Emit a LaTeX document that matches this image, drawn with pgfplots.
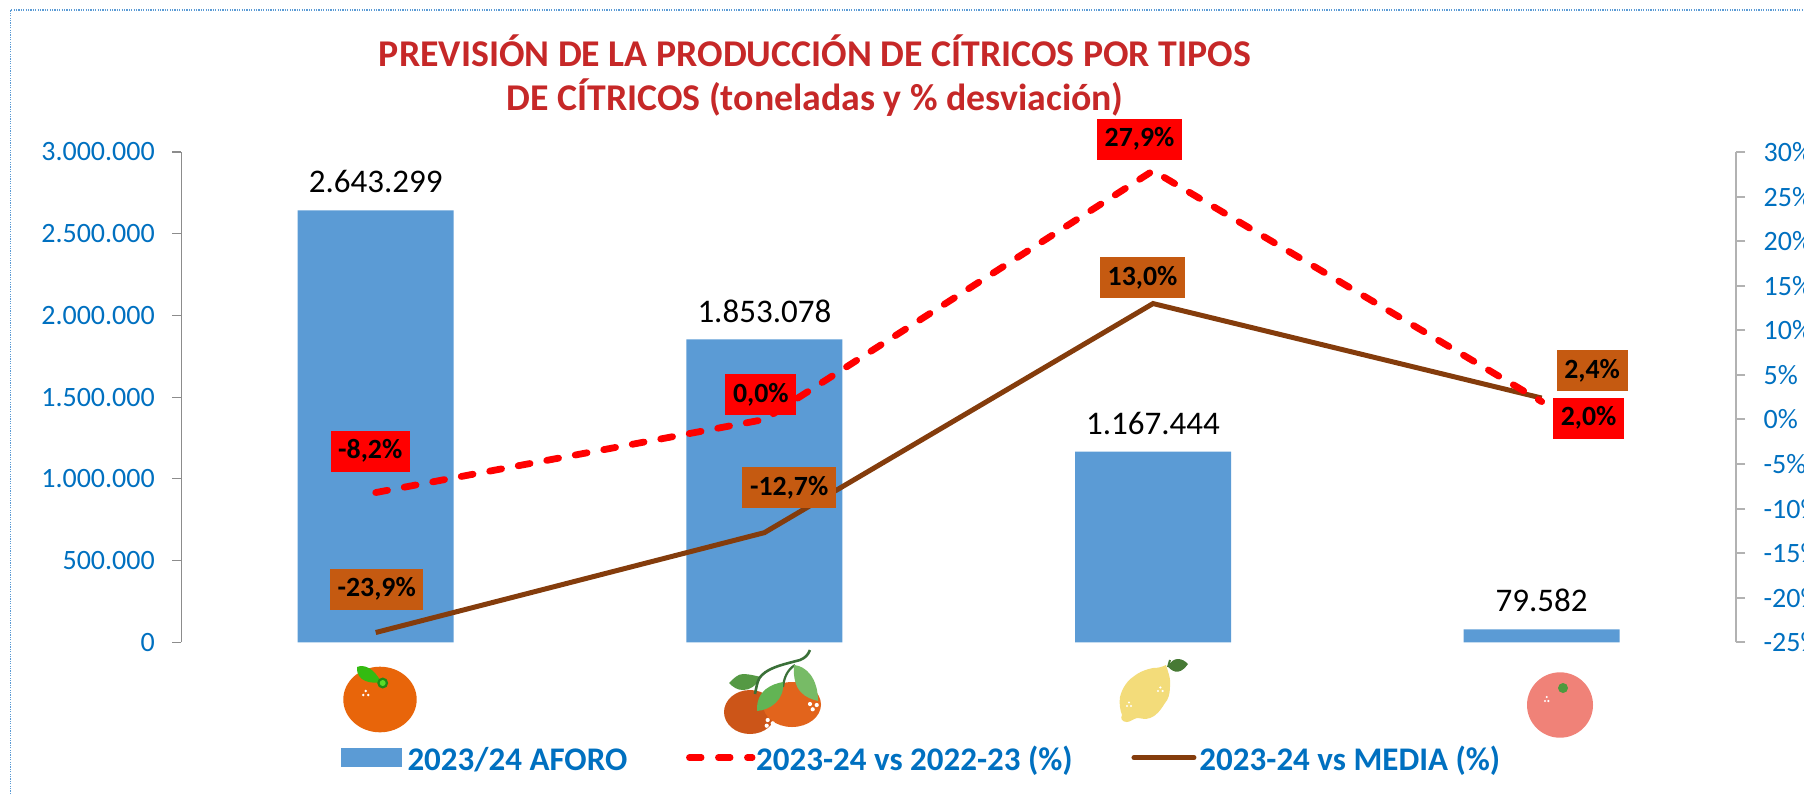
\documentclass[border=0pt]{standalone}
\usepackage{fontspec}
\setmainfont{Carlito}
\usepackage{pgfplots}
\pgfplotsset{compat=1.18}
\usepackage{pgfplotstable}
\definecolor{tickblue}{HTML}{0070C0}
\definecolor{barblue}{HTML}{5B9BD5}
\definecolor{titlered}{HTML}{C62828}
\definecolor{linebrown}{HTML}{843C0C}
\definecolor{boxbrown}{HTML}{C55A11}
\definecolor{fo}{RGB}{232,101,10}
\definecolor{fleaf}{RGB}{51,187,17}
\definecolor{fstar}{RGB}{30,140,20}
\definecolor{fstari}{RGB}{90,220,40}
\definecolor{md}{RGB}{204,85,24}
\definecolor{ml}{RGB}{226,100,28}
\definecolor{stem}{RGB}{58,112,56}
\definecolor{la}{RGB}{85,153,68}
\definecolor{lb}{RGB}{98,180,84}
\definecolor{lc}{RGB}{119,187,102}
\definecolor{lemon}{RGB}{243,220,122}
\definecolor{lemleaf}{RGB}{71,122,53}
\definecolor{pink}{RGB}{240,130,120}
\definecolor{pstar}{RGB}{78,154,62}
\pgfplotstableread{
x y lab
0 2643299 2.643.299
1 1853078 1.853.078
2 1167444 1.167.444
3 79582 79.582
}\barsdata
\pgfplotstableread{
x y lab dx dy
0 -8.2 -8,2 -5.5 41.5
1 0.0 0,0 -3.5 25
2 27.9 27,9 -13.5 31.7
3 2.0 2,0 47 -16.4
}\reddata
\pgfplotstableread{
x y lab dx dy
0 -23.9 -23,9 1 43.5
1 -12.7 -12,7 24.8 44.7
2 13.0 13,0 -10.5 26
3 2.4 2,4 50.5 27.7
}\browndata
\tikzset{
 reddash/.style={color=red,line width=3.4pt,line cap=round,dash pattern=on 6pt off 8.5pt},
 brownline/.style={color=linebrown,line width=2.5pt},
}
\pgfplotsset{
 boxlabels/.style={
  nodes near coords={\pgfplotspointmeta\%},
  point meta=explicit symbolic,
  visualization depends on={\thisrow{dx} \as \dx},
  visualization depends on={\thisrow{dy} \as \dy},
  nodes near coords style={anchor=center,fill=#1,text=black,
    font=\fontsize{13.9}{15}\bfseries,inner xsep=3.8pt,inner ysep=0pt,minimum height=20.5pt,
    xshift={\dx*0.5},yshift={\dy*0.5}},
 },
}
\begin{document}
\begin{tikzpicture}
\path[use as bounding box] (0,0) rectangle (902pt,-397pt);
\clip (0,0) rectangle (902pt,-397pt);
% frame
\draw[barblue,line width=0.6pt,dash pattern=on 0.6pt off 0.6pt] (5.2pt,-397pt) -- (5.2pt,-5pt) -- (902pt,-5pt);
% title
\node[font=\fontsize{18.9}{20}\bfseries,text=titlered] at (407.5pt,-25.3pt) {PREVISIÓN DE LA PRODUCCIÓN DE CÍTRICOS POR TIPOS};
\node[font=\fontsize{18.9}{20}\bfseries,text=titlered] at (407.5pt,-48.9pt) {DE CÍTRICOS (toneladas y \% desviación)};
\begin{axis}[
  at={(90.7pt,-321.15pt)},anchor=south west,
  width=777.3pt,height=245.15pt,scale only axis,clip=false,
  xmin=-0.5,xmax=3.5,ymin=0,ymax=3000000,
  axis x line=none,axis y line*=left,
  axis line style={-,draw=gray!90,line width=0.6pt},
  xtick=\empty,
  scaled y ticks=false,
  ytick={0,500000,1000000,1500000,2000000,2500000,3000000},
  yticklabels={0,500.000,1.000.000,1.500.000,2.000.000,2.500.000,3.000.000},
  tick align=outside,major tick length=4.6pt,
  y tick style={draw=gray!90,line width=0.6pt},
  yticklabel style={font=\fontsize{14}{16}\selectfont,text=tickblue,inner sep=0pt,xshift=-8.5pt},
  legend style={draw=none,fill=none,at={(0.1026,-0.24)},anchor=west,inner sep=0pt,outer sep=0pt,
    font=\fontsize{16.5}{18}\bfseries,text=tickblue,
    nodes={inner sep=0pt},
    /tikz/every even column/.append style={column sep=29.4pt},
    /tikz/every odd column/.append style={column sep=2.8pt}},
  legend columns=3,
]
\addplot[ybar,bar width=78pt,fill=barblue,draw=none,
  nodes near coords,point meta=explicit symbolic,
  nodes near coords style={font=\fontsize{16.5}{18}\selectfont,text=black,anchor=south,yshift=5pt},
  legend image code/.code={\fill[barblue] (0pt,-3.5pt) rectangle (30.5pt,6pt);}]
  table[x=x,y=y,meta=lab]{\barsdata};
\addlegendentry{2023/24 AFORO}
\addlegendimage{legend image code/.code={\draw[color=red,line width=3.2pt,line cap=round,dash pattern=on 6pt off 8.5pt] (1.5pt,1.2pt) -- (33pt,1.2pt);}}
\addlegendentry{\hspace*{-2.5pt}2023-24 vs 2022-23 (\%)}
\addlegendimage{legend image code/.code={\draw[color=linebrown,line width=2.5pt,line cap=round] (0.5pt,1.2pt) -- (30.5pt,1.2pt);}}
\addlegendentry{\hspace*{-1.3pt}2023-24 vs MEDIA (\%)}
\end{axis}
\begin{axis}[
  at={(90.7pt,-321.15pt)},anchor=south west,
  width=777.3pt,height=245.15pt,scale only axis,clip=false,
  xmin=-0.5,xmax=3.5,ymin=-25,ymax=30,
  axis x line=none,axis y line*=right,
  axis line style={-,draw=gray!60,line width=1pt},
  xtick=\empty,
  ytick={-25,-20,-15,-10,-5,0,5,10,15,20,25,30},
  yticklabels={-25\%,-20\%,-15\%,-10\%,-5\%,0\%,5\%,10\%,15\%,20\%,25\%,30\%},
  tick align=outside,major tick length=4.6pt,
  y tick style={draw=gray!60,line width=1pt},
  yticklabel style={font=\fontsize{14}{16}\selectfont,text=tickblue,inner sep=0pt,xshift=9pt},
]
\addplot[brownline,boxlabels=boxbrown] table[x=x,y=y,meta=lab]{\browndata};
\addplot[reddash,boxlabels=red] table[x=x,y=y,meta=lab]{\reddata};
\end{axis}
% fruit pictures standing in for the category names
\begin{scope}[x=0.5pt,y=-0.5pt]
 % orange
 \fill[fo] (380,699.5) ellipse [x radius=36.7,y radius=32.8];
 \fill[fleaf] (357,667) .. controls (364,664) and (374,668) .. (381,682) .. controls (372,684) and (356,682) .. (357,667) -- cycle;
 \fill[fstar] (382.7,683) circle [radius=5.5];
 \fill[fstari] (382.7,683) circle [radius=3];
 \fill[white] (365.7,691) circle [radius=1.4] (363.2,695) circle [radius=1.4] (368.2,695) circle [radius=1.4];
 % mandarins
 \fill[md] (750,712) ellipse [x radius=26,y radius=22];
 \fill[ml] (792,704.5) ellipse [x radius=29,y radius=22.5];
 \fill[la] (729,683) .. controls (734,678) and (738,674) .. (743,674) .. controls (750,674) and (756,676) .. (761,677) .. controls (756,686) and (750,690) .. (743,690) .. controls (737,690) and (733,687) .. (729,683) -- cycle;
 \draw[stem,line width=1.3pt] (755,694) .. controls (757,684) and (758,678) .. (762,675) .. controls (770,667) and (785,664) .. (800,660) .. controls (805,658) and (808,655) .. (810,650);
 \draw[stem,line width=1.1pt] (795,665) .. controls (787,670) and (784,678) .. (783,687);
 \fill[lb] (783,682) .. controls (772,684) and (756,690) .. (757,711) .. controls (770,710) and (785,700) .. (783,682) -- cycle;
 \fill[lc] (794,665) .. controls (806,666) and (818,678) .. (818,701) .. controls (806,698) and (792,692) .. (794,665) -- cycle;
 \fill[white] (810,704) circle [radius=2.1] (816.7,705) circle [radius=2.1] (812.7,709.3) circle [radius=2.1]
   (767.7,720) circle [radius=2.1] (772.7,723.3) circle [radius=2.1] (766.7,725.7) circle [radius=2.1];
 % lemon
 \fill[lemon] (1166,665) .. controls (1168,672) and (1171,678) .. (1170,687) .. controls (1170,694) and (1168,700) .. (1165,703) .. controls (1160,711) and (1156,716) .. (1150,718) .. controls (1145,720) and (1141,718) .. (1137,718) .. controls (1133,719) and (1130,722) .. (1126.7,722) .. controls (1122,722) and (1120,718) .. (1122,715) .. controls (1120,710) and (1119,703) .. (1120,697) .. controls (1122,688) and (1128,680) .. (1133,677) .. controls (1140,671) and (1148,669) .. (1153,668) .. controls (1158,668) and (1162,667) .. (1166,665) -- cycle;
 \fill[lemleaf] (1168,666.7) .. controls (1171,661) and (1174,659) .. (1178,659) .. controls (1182,659) and (1185,661) .. (1188,664) .. controls (1185,668) and (1182,671) .. (1178,671.7) .. controls (1174,672) and (1171,670) .. (1168,666.7) -- cycle;
 \draw[lemleaf,line width=1pt] (1168,667) -- (1170,660);
 \fill[white] (1160.3,687.5) circle [radius=1.2] (1158,691) circle [radius=1.2] (1162.6,691) circle [radius=1.2]
   (1129,702.5) circle [radius=1.2] (1127,706) circle [radius=1.2] (1131,706) circle [radius=1.2];
 % blood orange
 \fill[pink] (1560,705) ellipse [x radius=33,y radius=32.7];
 \fill[pstar] (1563,688) circle [radius=5];
 \fill[white] (1546.7,697) circle [radius=1.2] (1545,701) circle [radius=1.2] (1548.4,701) circle [radius=1.2];
\end{scope}
\end{tikzpicture}
\end{document}
